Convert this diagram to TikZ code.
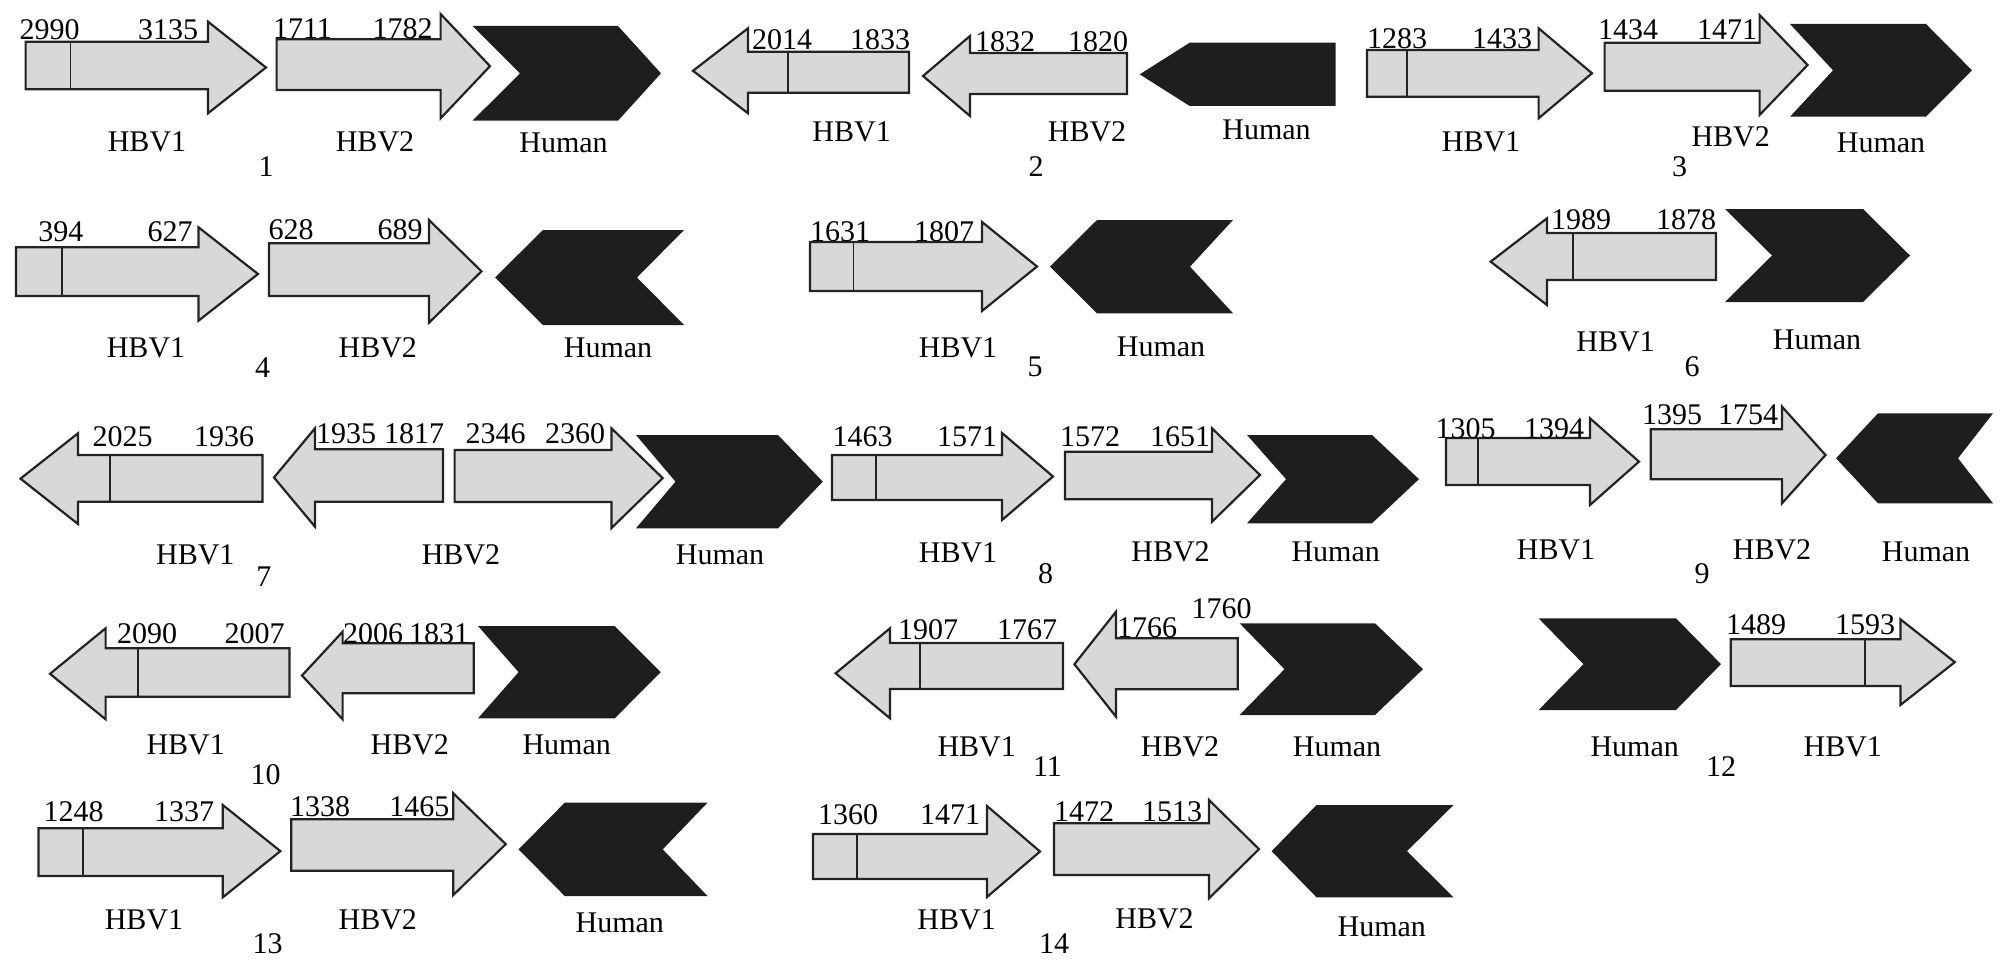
\documentclass[tikz,border=0pt]{standalone}
\usepackage{fontspec}
\setmainfont{Liberation Serif}
\definecolor{hbvfill}{RGB}{216,216,216}
\definecolor{hbvline}{RGB}{35,35,35}
\definecolor{humfill}{RGB}{30,30,30}
\tikzset{
  hbv/.style={fill=hbvfill,draw=hbvline,line width=1.1pt,line join=miter},
  hum/.style={fill=humfill},
  divline/.style={draw=hbvline,line width=0.9pt},
  lab/.style={inner sep=0pt,font=\fontsize{15}{15}\selectfont},
}
% arrow: xbase-end, xheadbase, xtip, yshafttop, yshaftbottom, yheadtop, yheadbottom
\newcommand\hbvA[7]{\draw[hbv] (#1,#4) -- (#2,#4) -- (#2,#6) -- (#3,{(#6+#7)/2}) -- (#2,#7) -- (#2,#5) -- (#1,#5) -- cycle;}
\newcommand\hbvdiv[3]{\draw[divline] (#1,#2) -- (#1,#3);}
% right chevron: xl xr tip notch yt yb
\newcommand\humR[6]{\fill[hum] (#1,#5) -- (#2,#5) -- (#3,{(#5+#6)/2}) -- (#2,#6) -- (#1,#6) -- (#4,{(#5+#6)/2}) -- cycle;}
% left chevron: tip xl xr notch yt yb
\newcommand\humL[6]{\fill[hum] (#1,{(#5+#6)/2}) -- (#2,#5) -- (#3,#5) -- (#4,{(#5+#6)/2}) -- (#3,#6) -- (#2,#6) -- cycle;}
% left pentagon: tip xl xr yt yb
\newcommand\humP[5]{\fill[hum] (#1,{(#4+#5)/2}) -- (#2,#4) -- (#3,#4) -- (#3,#5) -- (#2,#5) -- cycle;}
\begin{document}
\begin{tikzpicture}[x=0.5pt,y=-0.5pt]
\useasboundingbox (0,0) rectangle (2008,963);
% ---------- Panel 1
\hbvA{25.6}{208}{266}{41.7}{89.3}{21.7}{113.3}\hbvdiv{70.4}{41.7}{89.3}
\hbvA{276.6}{440.6}{490}{39.3}{90}{14}{118.3}
\humR{472.5}{618}{661}{520}{26}{120.7}
\node[lab] (a1) at (49.5,30) {2990};
\node[lab] (a2) at (168,30) {3135};
\node[lab] (a3) at (302.5,28.3) {1711};
\node[lab] (a4) at (402.5,28.3) {1782};
\node[lab] (a5) at (147,141.7) {HBV1};
\node[lab] (a6) at (375,141.7) {HBV2};
\node[lab] (a7) at (563.5,143.3) {Human};
\node[lab] (a8) at (266,166.7) {1};
% ---------- Panel 2
\hbvA{909}{748}{693}{51.7}{92.7}{28.3}{113.3}\hbvdiv{787.6}{51.7}{92.7}
\hbvA{1127}{970}{923}{53}{94}{36}{116}
\humP{1139.7}{1189.7}{1335.7}{42.7}{106}
\node[lab] (b1) at (782,40) {2014};
\node[lab] (b2) at (880,40) {1833};
\node[lab] (b3) at (1005,41.7) {1832};
\node[lab] (b4) at (1098,41.7) {1820};
\node[lab] (b5) at (851.6,131.7) {HBV1};
\node[lab] (b6) at (1087,131.7) {HBV2};
\node[lab] (b7) at (1266.5,130) {Human};
\node[lab] (b8) at (1036,166.7) {2};
% ---------- Panel 3
\hbvA{1367}{1538.6}{1592}{50}{96.7}{28.3}{118.3}\hbvdiv{1407}{50}{96.7}
\hbvA{1604.6}{1759.6}{1807.6}{42.7}{90.7}{15}{115}
\humR{1790}{1926}{1972}{1833}{24}{116.7}
\node[lab] (c1) at (1397,38.3) {1283};
\node[lab] (c2) at (1502,38.3) {1433};
\node[lab] (c3) at (1628,30) {1434};
\node[lab] (c4) at (1727,30) {1471};
\node[lab] (c5) at (1481,141.7) {HBV1};
\node[lab] (c6) at (1730.7,136.7) {HBV2};
\node[lab] (c7) at (1881,143.3) {Human};
\node[lab] (c8) at (1679.5,166.7) {3};
% ---------- Panel 4
\hbvA{16}{198.5}{258}{247.3}{296}{227.3}{320.7}\hbvdiv{62}{247.3}{296}
\hbvA{269}{429}{481.5}{243.3}{296}{220}{322.7}
\humL{495}{543}{684}{637}{230}{325}
\node[lab] (d1) at (61,231.7) {394};
\node[lab] (d2) at (170,231.7) {627};
\node[lab] (d3) at (291,229.3) {628};
\node[lab] (d4) at (400,229.3) {689};
\node[lab] (d5) at (146,348) {HBV1};
\node[lab] (d6) at (377.8,348) {HBV2};
\node[lab] (d7) at (608,348) {Human};
\node[lab] (d8) at (262.5,368) {4};
% ---------- Panel 5
\hbvA{810}{982}{1037}{242}{291}{222}{311}\hbvdiv{853.5}{242}{291}
\humL{1050}{1097}{1233}{1190}{220}{313.3}
\node[lab] (e1) at (840,231.7) {1631};
\node[lab] (e2) at (944,231.7) {1807};
\node[lab] (e3) at (958,348) {HBV1};
\node[lab] (e4) at (1161,346.7) {Human};
\node[lab] (e5) at (1035,366.7) {5};
% ---------- Panel 6
\hbvA{1716}{1547}{1490.6}{233}{280}{218.3}{305}\hbvdiv{1572.6}{233}{280}
\humR{1725}{1863}{1910}{1772}{209}{302}
\node[lab] (f1) at (1581,220) {1989};
\node[lab] (f2) at (1686,220) {1878};
\node[lab] (f3) at (1615.5,341.7) {HBV1};
\node[lab] (f4) at (1817,340) {Human};
\node[lab] (f5) at (1692,366.7) {6};
% ---------- Panel 7
\hbvA{262.5}{78}{20.5}{455}{501.7}{433.3}{524}\hbvdiv{110}{455}{501.7}
\hbvA{443}{315}{274}{449.3}{501.7}{428.3}{526.7}
\hbvA{454.6}{611.5}{662.7}{450}{502}{428.3}{528}
\humR{636}{778}{822.8}{675.5}{435}{528.3}
\node[lab] (g1) at (122.5,436.7) {2025};
\node[lab] (g2) at (224,436.7) {1936};
\node[lab] (g3) at (346,433.3) {1935};
\node[lab] (g4) at (414,433.3) {1817};
\node[lab] (g5) at (495.7,433.3) {2346};
\node[lab] (g6) at (575,433.3) {2360};
\node[lab] (g7) at (195.3,555) {HBV1};
\node[lab] (g8) at (461,555) {HBV2};
\node[lab] (g9) at (720,555) {Human};
\node[lab] (g10) at (263.8,576.7) {7};
% ---------- Panel 8
\hbvA{832}{1002}{1053}{455}{500}{433}{520}\hbvdiv{876}{455}{500}
\hbvA{1065}{1212}{1260}{451.7}{499.3}{428.3}{521.7}
\humR{1247}{1372}{1419}{1286}{435}{523.3}
\node[lab] (h1) at (862.5,436.7) {1463};
\node[lab] (h2) at (967,436.7) {1571};
\node[lab] (h3) at (1090,436.7) {1572};
\node[lab] (h4) at (1180,436.7) {1651};
\node[lab] (h5) at (958,553) {HBV1};
\node[lab] (h6) at (1170.5,551.7) {HBV2};
\node[lab] (h7) at (1335.7,551.7) {Human};
\node[lab] (h8) at (1045.6,573.3) {8};
% ---------- Panel 9
\hbvA{1446}{1590}{1639}{438}{485}{418.3}{505}\hbvdiv{1477.8}{438}{485}
\hbvA{1650.7}{1782}{1825.5}{429.3}{479.3}{406.7}{503.3}
\humL{1836}{1878}{1993}{1958}{413.3}{503.3}
\node[lab] (i1) at (1465.6,428.3) {1305};
\node[lab] (i2) at (1554,428.3) {1394};
\node[lab] (i3) at (1672,415) {1395};
\node[lab] (i4) at (1748,415) {1754};
\node[lab] (i5) at (1556,550) {HBV1};
\node[lab] (i6) at (1772,550) {HBV2};
\node[lab] (i7) at (1926,551.7) {Human};
\node[lab] (i8) at (1702,573.3) {9};
% ---------- Panel 10
\hbvA{289.4}{105.6}{50}{648.3}{696.7}{628.3}{719.3}\hbvdiv{137.7}{648.3}{696.7}
\hbvA{473.8}{342.6}{302}{643.3}{693.3}{631.7}{719.3}
\humR{478}{614.7}{660.8}{518.6}{626}{718.3}
\node[lab] (j1) at (147,633.3) {2090};
\node[lab] (j2) at (254.6,633.3) {2007};
\node[lab] (j3) at (373,633.3) {2006};
\node[lab] (j4) at (439,633.3) {1831};
\node[lab] (j5) at (185.7,745) {HBV1};
\node[lab] (j6) at (409.8,745) {HBV2};
\node[lab] (j7) at (566.7,745) {Human};
\node[lab] (j8) at (265.7,775) {10};
% ---------- Panel 11
\hbvA{1063}{890}{835.6}{643}{689}{628.3}{718.3}\hbvdiv{920}{643}{689}
\hbvA{1237.7}{1116}{1074.4}{638.3}{689.3}{611.7}{716.7}
\humR{1239.6}{1375}{1423}{1284.5}{623.3}{715}
\node[lab] (k1) at (928,630) {1907};
\node[lab] (k2) at (1027,630) {1767};
\node[lab] (k3) at (1147,628) {1766};
\node[lab] (k4) at (1221.7,608.3) {1760};
\node[lab] (k5) at (976.7,746.7) {HBV1};
\node[lab] (k6) at (1180,746.7) {HBV2};
\node[lab] (k7) at (1337,746.7) {Human};
\node[lab] (k8) at (1047.5,766.7) {11};
% ---------- Panel 12
\humR{1538.6}{1676}{1721}{1583.5}{618.3}{710}
\hbvA{1730.7}{1900.4}{1954.8}{639.3}{686}{619.3}{705}\hbvdiv{1865}{639.3}{686}
\node[lab] (l1) at (1756,625) {1489};
\node[lab] (l2) at (1865,625) {1593};
\node[lab] (l3) at (1634.7,746.7) {Human};
\node[lab] (l4) at (1842.8,746.7) {HBV1};
\node[lab] (l5) at (1721,766.7) {12};
% ---------- Panel 13
\hbvA{38.4}{222.8}{280.4}{828.3}{876}{805}{897.3}\hbvdiv{83}{828.3}{876}
\hbvA{291.3}{453.3}{505.8}{819.3}{870.7}{793.3}{895}
\humL{518.6}{564.7}{707.5}{662.7}{802.7}{896}
\node[lab] (m1) at (73.6,811.7) {1248};
\node[lab] (m2) at (184,811.7) {1337};
\node[lab] (m3) at (320,806.7) {1338};
\node[lab] (m4) at (419.3,806.7) {1465};
\node[lab] (m5) at (144,920) {HBV1};
\node[lab] (m6) at (377.8,920) {HBV2};
\node[lab] (m7) at (619.8,923.3) {Human};
\node[lab] (m8) at (267.6,943.3) {13};
% ---------- Panel 14
\hbvA{813}{987}{1040}{834}{879}{806}{897}\hbvdiv{856.7}{834}{879}
\hbvA{1054}{1209}{1259}{823.3}{875}{800}{898.3}
\humL{1271.6}{1316.5}{1453.5}{1407}{805}{897.3}
\node[lab] (n1) at (848,815) {1360};
\node[lab] (n2) at (950,815) {1471};
\node[lab] (n3) at (1084,811.7) {1472};
\node[lab] (n4) at (1172,811.7) {1513};
\node[lab] (n5) at (956.6,920) {HBV1};
\node[lab] (n6) at (1154.5,918.3) {HBV2};
\node[lab] (n7) at (1381.8,926.7) {Human};
\node[lab] (n8) at (1054,943.3) {14};
\end{tikzpicture}
\end{document}
